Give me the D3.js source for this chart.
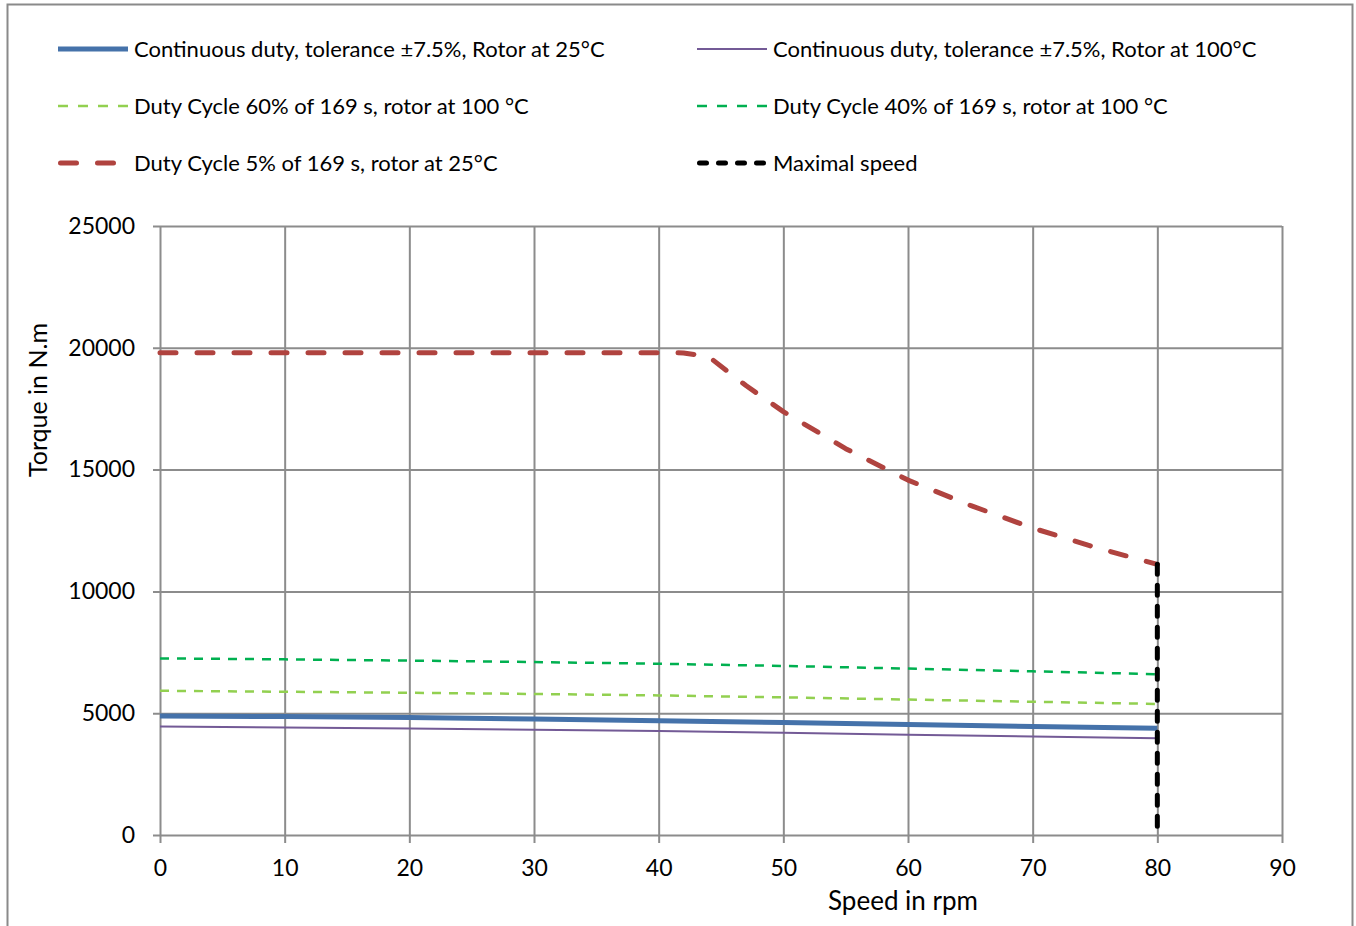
<!DOCTYPE html>
<html>
<head>
<meta charset="utf-8">
<script src="https://cdn.jsdelivr.net/npm/d3@7"></script>
<style>
  body { margin: 0; background: #fff; }
  svg { display: block; font-family: Lato, "Open Sans", sans-serif; }
</style>
</head>
<body>
<div class="chart"></div>
<script>
//-----------------------------------------
// data
//-----------------------------------------
var speedTicks = [0, 10, 20, 30, 40, 50, 60, 70, 80, 90];
var torqueTicks = [0, 5000, 10000, 15000, 20000, 25000];

// continuous duty and duty cycle curves share the same speeds
var speeds = [0, 10, 20, 30, 40, 50, 60, 70, 80];
var contRotor25 = [4880, 4860, 4820, 4760, 4690, 4620, 4540, 4450, 4380];
var contRotor100 = [4450, 4410, 4370, 4320, 4270, 4200, 4120, 4040, 3970];
var duty60 = [5920, 5880, 5840, 5790, 5730, 5650, 5560, 5470, 5380];
var duty40 = [7250, 7210, 7160, 7100, 7030, 6940, 6830, 6720, 6600];

// duty cycle 5% curve has its own speeds
var speeds5 = [0, 10, 20, 30, 40, 42, 44, 47, 50, 55, 60, 65, 70, 75, 80];
var duty5 = [19800, 19800, 19800, 19800, 19800, 19790, 19640, 18450, 17380, 15860, 14570, 13530, 12600, 11810, 11110];

// maximal speed vertical line
var maxSpeedX = [80, 80];
var maxSpeedY = [11110, 0];

var labels = [
    "Continuous duty, tolerance \u00b17.5%, Rotor at 25\u00b0C",
    "Continuous duty, tolerance \u00b17.5%, Rotor at 100\u00b0C",
    "Duty Cycle 60% of 169 s, rotor at 100 \u00b0C",
    "Duty Cycle 40% of 169 s, rotor at 100 \u00b0C",
    "Duty Cycle 5% of 169 s, rotor at 25\u00b0C",
    "Maximal speed"
];

//-----------------------------------------
// chart
//-----------------------------------------
var svgWidth = 1356;
var svgHeight = 926;

var plot = { left: 160, right: 1282, top: 226, bottom: 835 };

var svg = d3.select(".chart")
    .append("svg")
    .attr("width", svgWidth)
    .attr("height", svgHeight);

// outer frame (bottom runs off the picture)
svg.append("rect")
    .attr("x", 7.5)
    .attr("y", 4.5)
    .attr("width", 1345)
    .attr("height", 1000)
    .attr("fill", "none")
    .attr("stroke", "#8a8a8a")
    .attr("stroke-width", 2);

var xScale = d3.scaleLinear().domain([0, 90]).range([plot.left, plot.right]);
var yScale = d3.scaleLinear().domain([0, 25000]).range([plot.bottom, plot.top]);

// y gridlines + labels
var yAxis = d3.axisLeft(yScale)
    .tickValues(torqueTicks)
    .tickSize(-(plot.right - plot.left))
    .tickPadding(25)
    .tickFormat(d3.format("d"));

var yG = svg.append("g")
    .attr("transform", `translate(${plot.left},0)`)
    .call(yAxis);
yG.select(".domain").remove();
yG.selectAll("line").attr("x1", -7).attr("stroke", "#8c8c8c").attr("stroke-width", 2);
yG.selectAll("text").attr("font-size", 23).attr("fill", "#000").attr("font-family", "Lato, sans-serif");

// x gridlines + labels
var xAxis = d3.axisBottom(xScale)
    .tickValues(speedTicks)
    .tickSize(-(plot.bottom - plot.top))
    .tickPadding(25);

var xG = svg.append("g")
    .attr("transform", `translate(0,${plot.bottom})`)
    .call(xAxis);
xG.select(".domain").remove();
xG.selectAll("line").attr("y1", 8).attr("stroke", "#8c8c8c").attr("stroke-width", 2);
xG.selectAll("text").attr("font-size", 23).attr("fill", "#000").attr("font-family", "Lato, sans-serif");

// axis titles
svg.append("text")
    .attr("x", 903)
    .attr("y", 910)
    .attr("text-anchor", "middle")
    .attr("font-size", 26)
    .text("Speed in rpm");

svg.append("text")
    .attr("transform", "translate(47,400) rotate(-90)")
    .attr("text-anchor", "middle")
    .attr("font-size", 25)
    .text("Torque in N.m");

//-----------------------------------------
// series
//-----------------------------------------
var series = [
    { name: labels[0], xs: speeds, ys: contRotor25, color: "#4572aa", width: 5, dash: null, legDash: null, cap: "butt" },
    { name: labels[1], xs: speeds, ys: contRotor100, color: "#735a96", width: 2, dash: null, legDash: null, cap: "butt" },
    { name: labels[2], xs: speeds, ys: duty60, color: "#92d050", width: 2.5, dash: "9,8", legDash: "10,10", cap: "butt" },
    { name: labels[3], xs: speeds, ys: duty40, color: "#00b050", width: 2.5, dash: "9,8", legDash: "10,10", cap: "butt" },
    { name: labels[4], xs: speeds5, ys: duty5, color: "#b0433f", width: 5, dash: "16,21", legDash: "16,21", cap: "round" },
    { name: labels[5], xs: maxSpeedX, ys: maxSpeedY, color: "#000", width: 5, dash: "10,11", legDash: "7,12", cap: "round" }
];

var line = d3.line()
    .x(function(d) { return xScale(d[0]); })
    .y(function(d) { return yScale(d[1]); });

// draw order: continuous first, maximal speed last on top
series.forEach(function(s) {
    var pts = s.xs.map(function(x, i) { return [x, s.ys[i]]; });
    svg.append("path")
        .datum(pts)
        .attr("d", line)
        .attr("fill", "none")
        .attr("stroke", s.color)
        .attr("stroke-width", s.width)
        .attr("stroke-linecap", s.cap)
        .attr("stroke-linejoin", "round")
        .attr("stroke-dasharray", s.dash);
});

//-----------------------------------------
// legend
//-----------------------------------------
var legendCols = [58, 697];
var legendRows = [49, 106, 163];

series.forEach(function(s, i) {
    var lx = legendCols[i % 2];
    var ly = legendRows[Math.floor(i / 2)];
    var g = svg.append("g").attr("transform", `translate(${lx},${ly})`);
    g.append("line")
        .attr("x1", s.cap == "round" ? 2.5 : 0)
        .attr("x2", 70)
        .attr("y1", 0)
        .attr("y2", 0)
        .attr("stroke", s.color)
        .attr("stroke-width", s.width)
        .attr("stroke-linecap", s.cap)
        .attr("stroke-dasharray", s.legDash);
    g.append("text")
        .attr("x", 76)
        .attr("y", 8)
        .attr("font-size", 22)
        .attr("fill", "#000")
        .text(s.name);
});
</script>
</body>
</html>
